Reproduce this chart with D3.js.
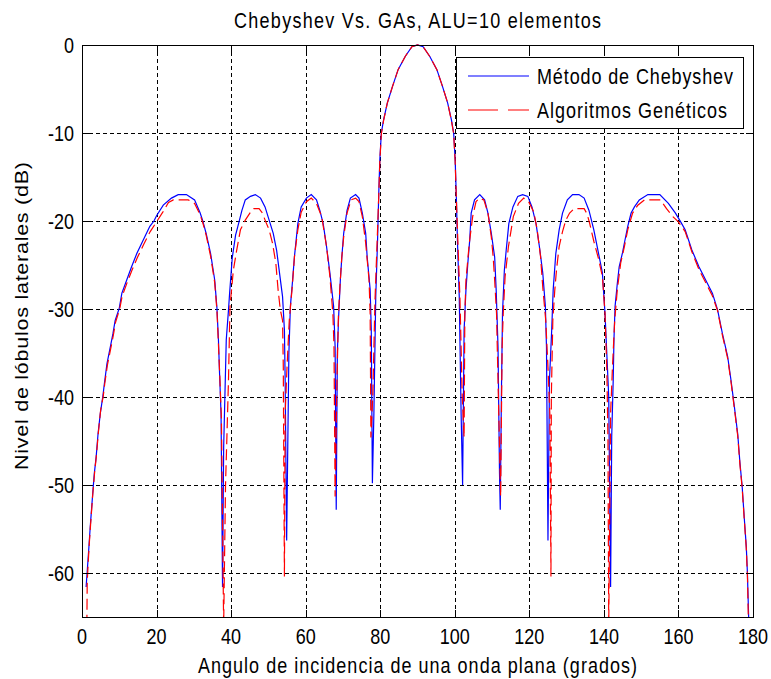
<!DOCTYPE html>
<html>
<head>
<meta charset="utf-8">
<script src="https://cdn.jsdelivr.net/npm/d3@7"></script>
<style>
  body { margin: 0; background: #fff; }
  text { font-family: "Liberation Sans", Arial, sans-serif; fill: #000; }
</style>
</head>
<body>
<svg id="chart" width="771" height="679"></svg>
<script>
// Side-lobe level (dB) versus incidence angle (degrees), 10-element linear array.
const chebyshevPattern = [
  [1.1,-61.6],[1.8,-57.4],[2.2,-54.8],[2.8,-51.4],[3.3,-48.7],[3.8,-46.8],[4.3,-44.2],[4.9,-41.9],
  [5.6,-39.9],[6.0,-38.5],[6.7,-36.2],[7.6,-34.3],[8.3,-32.8],[8.9,-31.3],[10.0,-29.9],[10.7,-28.2],
  [12.0,-26.7],[13.3,-25.2],[14.7,-23.7],[16.4,-22.2],[18.2,-20.6],[19.3,-20.0],[20.0,-19.4],[21.8,-18.2],
  [24.0,-17.4],[25.8,-17.0],[28.0,-17.0],[30.2,-17.6],[31.7,-19.1],[32.4,-20.0],[33.3,-21.4],[34.5,-23.7],
  [35.6,-26.7],[36.2,-29.9],[36.6,-33.5],[36.9,-37.3],[37.3,-41.9],[37.7,-61.6],
  [38.0,-45.7],[38.7,-33.5],[39.3,-30.1],[39.6,-28.2],[40.3,-24.2],[41.2,-21.6],[42.0,-20.3],[42.9,-18.8],
  [43.8,-17.6],[45.2,-17.2],[46.5,-17.0],[47.9,-17.4],[49.1,-18.4],[50.2,-19.9],[51.3,-21.4],[52.2,-23.3],
  [53.1,-26.3],[53.8,-28.6],[54.3,-32.4],[54.5,-38.1],[54.9,-56.3],
  [55.2,-45.6],[55.5,-35.0],[55.9,-29.7],[56.5,-26.7],[57.0,-24.0],[57.9,-20.3],[58.8,-18.4],[60.2,-17.4],
  [61.5,-17.0],[62.9,-17.6],[63.8,-18.8],[64.7,-20.3],[65.6,-22.9],[66.5,-25.9],[67.5,-29.7],[67.9,-34.3],
  [68.2,-52.8],
  [68.5,-35.0],[68.8,-31.3],[69.3,-26.7],[69.7,-24.1],[70.2,-21.4],[71.1,-18.8],[72.0,-17.4],[73.4,-17.0],
  [74.3,-17.4],[75.2,-19.1],[76.1,-21.4],[76.5,-24.1],[77.3,-27.8],[77.6,-32.4],[77.9,-49.8],
  [78.3,-41.9],[78.8,-28.6],[79.3,-22.0],[79.6,-17.0],[79.9,-13.0],[80.3,-10.0],[80.9,-8.5],[81.9,-6.6],
  [83.3,-4.7],[84.8,-2.8],[86.7,-1.3],[88.5,-0.2],[90.0,0],[91.5,-0.2],[93.3,-1.3],[95.2,-2.8],
  [96.7,-4.7],[98.1,-6.6],[99.1,-8.5],[99.7,-10.0],[100.1,-13.0],[100.4,-17.0],[100.7,-22.0],[101.2,-28.6],
  [101.7,-41.9],[102.1,-50.0],
  [102.5,-32.4],[103.0,-27.8],[103.5,-24.8],[104.0,-22.2],[104.4,-19.1],[105.3,-17.6],[106.7,-17.0],
  [108.0,-17.6],[108.9,-19.1],[109.8,-21.4],[110.7,-24.1],[111.1,-27.8],[111.6,-34.3],[112.0,-48.7],
  [112.2,-52.8],
  [112.5,-40.0],[112.8,-30.5],[113.3,-25.6],[113.8,-23.3],[114.5,-20.3],[115.6,-18.4],[116.9,-17.2],
  [118.2,-17.0],[119.6,-17.2],[120.7,-18.4],[121.8,-20.3],[122.7,-22.9],[123.6,-25.9],[124.3,-29.7],
  [124.6,-34.3],[125.0,-56.3],
  [125.4,-38.1],[126.0,-32.4],[126.4,-27.8],[127.1,-23.7],[128.0,-21.0],[128.9,-19.1],[130.2,-17.6],
  [131.6,-17.0],[133.3,-17.0],[134.7,-17.4],[136.0,-18.8],[137.3,-21.0],[138.2,-22.9],[139.6,-25.9],
  [140.3,-30.5],[140.9,-36.2],[141.3,-40.0],[141.8,-61.6],
  [142.1,-44.5],[142.5,-38.1],[142.7,-33.5],[143.0,-29.7],[143.6,-27.1],[144.1,-25.2],[145.0,-23.6],
  [145.5,-22.5],[146.4,-20.6],[147.3,-19.1],[148.2,-18.4],[149.5,-17.6],[151.8,-17.0],[155.0,-17.0],
  [157.3,-18.0],[159.2,-19.1],[160.6,-20.1],[161.8,-21.0],[163.6,-23.3],[165.5,-25.2],[167.3,-26.7],
  [169.1,-28.2],[170.5,-30.1],[171.8,-32.8],[173.2,-35.4],[174.1,-38.1],[175.0,-41.1],[175.9,-44.2],
  [176.5,-47.5],[177.1,-50.2],[177.7,-54.0],[178.2,-57.0],[178.5,-60.0],[178.9,-66.0]
];

const geneticPattern = [
  [1.3,-66.0],[1.4,-61.0],[1.9,-57.0],[2.3,-54.5],[2.9,-51.0],[3.4,-48.5],[3.9,-46.5],[4.4,-44.0],
  [5.0,-41.5],[5.7,-39.9],[6.1,-38.5],[6.8,-36.4],[7.7,-34.5],[8.4,-33.0],[9.0,-31.5],[10.1,-30.0],
  [10.8,-28.5],[12.1,-27.0],[13.4,-25.6],[14.8,-24.2],[16.5,-22.7],[18.3,-21.2],[20.0,-20.1],[21.8,-18.9],
  [23.2,-17.9],[24.5,-17.6],[28.5,-17.6],[30.2,-18.0],[31.7,-19.3],[32.4,-20.2],[33.3,-21.6],[34.5,-24.0],
  [35.6,-27.0],[36.2,-30.2],[36.6,-34.0],[37.0,-38.0],[37.4,-42.5],[38.0,-66.0],
  [38.5,-50.0],[38.8,-45.6],[39.3,-38.0],[39.7,-29.7],[40.6,-25.6],[41.5,-23.3],[42.5,-21.0],[43.8,-19.9],
  [45.2,-19.0],[46.1,-18.6],[47.5,-18.6],[48.4,-19.1],[49.3,-20.1],[50.2,-21.0],[51.1,-22.5],[52.0,-24.8],
  [52.6,-27.8],[53.2,-30.1],[53.8,-31.3],[54.0,-36.6],[54.3,-60.4],
  [54.5,-41.9],[55.0,-36.6],[55.6,-31.3],[56.4,-27.5],[57.0,-24.0],[57.9,-21.0],[58.8,-19.0],[60.2,-17.8],
  [61.5,-17.4],[62.9,-18.0],[64.3,-19.5],[65.6,-22.9],[66.5,-26.3],[67.3,-30.5],[67.6,-34.3],[67.9,-51.3],
  [68.4,-38.1],[68.8,-30.5],[69.3,-26.7],[69.7,-24.1],[70.2,-21.8],[71.1,-19.1],[72.2,-17.6],[73.4,-17.4],
  [74.3,-17.8],[75.2,-19.5],[76.1,-22.5],[77.0,-26.7],[77.3,-30.5],[77.5,-44.6],
  [78.0,-40.0],[78.6,-29.0],[79.2,-22.0],[79.6,-17.2],[79.9,-13.2],[80.3,-10.1],[80.9,-8.6],[81.9,-6.6],
  [83.3,-4.7],[84.8,-2.8],[86.7,-1.3],[88.5,-0.2],[90.0,0],[91.5,-0.2],[93.3,-1.3],[95.2,-2.8],
  [96.7,-4.7],[98.1,-6.6],[99.1,-8.6],[99.7,-10.1],[100.1,-13.2],[100.4,-17.2],[100.8,-22.0],[101.4,-29.0],
  [102.0,-40.0],[102.5,-44.6],
  [102.7,-30.5],[103.0,-26.7],[103.9,-22.5],[104.8,-19.5],[105.7,-17.8],[106.6,-17.4],[107.8,-17.6],
  [108.9,-19.1],[109.8,-21.8],[110.3,-24.1],[110.7,-26.7],[111.2,-30.5],[111.6,-38.1],[112.3,-51.3],
  [112.7,-34.3],[113.0,-30.5],[113.5,-26.3],[114.4,-22.9],[115.7,-19.5],[117.1,-18.0],[118.5,-17.4],
  [119.8,-17.8],[121.2,-19.0],[122.1,-21.0],[123.0,-24.0],[123.6,-27.5],[124.4,-31.3],[125.0,-36.6],
  [125.5,-41.9],[125.8,-60.4],
  [125.9,-40.0],[126.3,-31.3],[126.8,-28.0],[127.3,-25.5],[128.0,-22.9],[128.9,-21.2],[129.8,-19.9],
  [130.8,-19.1],[132.0,-18.6],[134.7,-18.6],[135.5,-19.2],[136.2,-20.3],[137.3,-22.3],[138.5,-24.2],
  [139.6,-26.3],[140.3,-30.5],[140.8,-37.0],[141.1,-45.0],[141.3,-66.0],
  [141.8,-41.9],[142.3,-36.6],[142.9,-31.3],[143.6,-27.8],[144.5,-24.8],[145.5,-22.9],[146.4,-21.0],
  [147.7,-19.1],[149.1,-18.2],[150.9,-17.6],[155.2,-17.6],[156.8,-18.6],[158.5,-19.5],[160.0,-20.1],
  [161.8,-21.2],[163.6,-23.5],[165.5,-25.5],[167.3,-27.0],[169.1,-28.5],[170.5,-30.2],[171.8,-33.0],
  [173.2,-35.6],[174.1,-38.3],[175.0,-41.3],[175.9,-44.4],[176.5,-47.7],[177.1,-50.4],[177.7,-54.2],
  [178.2,-57.2],[178.5,-60.2],[178.8,-66.0]
];

const xTicks = [0, 20, 40, 60, 80, 100, 120, 140, 160, 180];
const yTicks = [-60, -50, -40, -30, -20, -10, 0];
const seriesNames = ["Método de Chebyshev", "Algoritmos Genéticos"];
const seriesColors = ["#0000ff", "#ff0000"];
const chartTitle = "Chebyshev Vs. GAs, ALU=10 elementos";
const xTitle = "Angulo de incidencia de una onda plana (grados)";
const yTitle = "Nivel de lóbulos laterales (dB)";

const svg = d3.select("#chart");
const box = { left: 82, right: 753, top: 45, bottom: 617 };
const stretch = 1.2;   // glyphs are drawn taller than wide

const x = d3.scaleLinear().domain([0, 180]).range([box.left, box.right]);
const y = d3.scaleLinear().domain([-65, 0]).range([box.bottom, box.top]);

svg.append("rect").attr("width", 771).attr("height", 679).attr("fill", "#fff");

// grid
const grid = svg.append("g").attr("stroke", "#000").attr("stroke-width", 1)
  .attr("stroke-dasharray", "4,3").attr("shape-rendering", "crispEdges");
grid.selectAll("line.v").data(xTicks.filter(d => d > 0 && d < 180)).join("line")
  .attr("x1", d => Math.round(x(d)) + 0.5).attr("x2", d => Math.round(x(d)) + 0.5)
  .attr("y1", box.top).attr("y2", box.bottom);
grid.selectAll("line.h").data(yTicks.filter(d => d > -65 && d < 0)).join("line")
  .attr("y1", d => Math.round(y(d)) + 0.5).attr("y2", d => Math.round(y(d)) + 0.5)
  .attr("x1", box.left).attr("x2", box.right);

// curves
svg.append("clipPath").attr("id", "plotClip").append("rect")
  .attr("x", box.left).attr("y", box.top - 1)
  .attr("width", box.right - box.left).attr("height", box.bottom - box.top + 1);

const line = d3.line().x(d => x(d[0])).y(d => y(d[1]));
const curves = svg.append("g").attr("clip-path", "url(#plotClip)").attr("fill", "none");
curves.append("path").datum(chebyshevPattern).attr("d", line)
  .attr("stroke", seriesColors[0]).attr("stroke-width", 1.2);
curves.append("path").datum(geneticPattern).attr("d", line)
  .attr("stroke", seriesColors[1]).attr("stroke-width", 1.2).attr("stroke-dasharray", "11,5");

// axes (ticks pointing inward on all four sides)
const tick = 7;
const axes = svg.append("g").attr("shape-rendering", "crispEdges");
axes.append("g").attr("transform", `translate(0,${box.bottom})`)
  .call(d3.axisBottom(x).tickValues(xTicks).tickSizeInner(-tick).tickSizeOuter(0).tickFormat(""));
axes.append("g").attr("transform", `translate(0,${box.top})`)
  .call(d3.axisTop(x).tickValues(xTicks).tickSizeInner(-tick).tickSizeOuter(0).tickFormat(""));
axes.append("g").attr("transform", `translate(${box.left},0)`)
  .call(d3.axisLeft(y).tickValues(yTicks).tickSizeInner(-tick).tickSizeOuter(0).tickFormat(""));
axes.append("g").attr("transform", `translate(${box.right},0)`)
  .call(d3.axisRight(y).tickValues(yTicks).tickSizeInner(-tick).tickSizeOuter(0).tickFormat(""));
axes.selectAll(".domain").remove();
axes.selectAll(".tick line").attr("stroke", "#000");
axes.append("rect").attr("x", box.left + 0.5).attr("y", box.top + 0.5)
  .attr("width", box.right - box.left).attr("height", box.bottom - box.top)
  .attr("fill", "none").attr("stroke", "#000").attr("stroke-width", 1);

// text helper: stretched glyphs; len is the on-screen length
function label(px, py, txt, opts = {}) {
  const size = opts.size || 18;
  const rot = opts.rotate ? " rotate(-90)" : "";
  const sc = opts.rotate ? `scale(${stretch},1)` : `scale(1,${stretch})`;
  const t = svg.append("text")
    .attr("transform", `translate(${px},${py})${rot} ${sc}`)
    .attr("text-anchor", opts.anchor || "middle")
    .attr("dy", "0.35em")
    .attr("font-size", size)
    .text(txt);
  if (opts.len) {
    const len = opts.rotate ? opts.len / stretch : opts.len;
    t.attr("textLength", len).attr("lengthAdjust", "spacing");
  }
  return t;
}

xTicks.forEach(d => label(x(d), 636, String(d)));
yTicks.forEach(d => label(box.left - 8, y(d), String(d), { anchor: "end" }));

label((box.left + box.right) / 2, 20, chartTitle, { len: 367 });
label((box.left + box.right) / 2, 665, xTitle, { len: 439 });
label(22, 316, yTitle, { rotate: true, len: 308 });

// legend
const lg = svg.append("g");
lg.append("rect").attr("x", 456.5).attr("y", 57.5).attr("width", 287).attr("height", 71)
  .attr("fill", "#fff").attr("stroke", "#000").attr("stroke-width", 1);
const rows = [76, 110];
seriesNames.forEach((name, i) => {
  lg.append("line").attr("x1", 468).attr("x2", 529).attr("y1", rows[i]).attr("y2", rows[i])
    .attr("stroke", seriesColors[i]).attr("stroke-width", 1.2)
    .attr("stroke-dasharray", i === 1 ? "30,10" : null);
  label(537, rows[i], name, { anchor: "start", len: i === 0 ? 196 : 190 });
});
</script>
</body>
</html>
